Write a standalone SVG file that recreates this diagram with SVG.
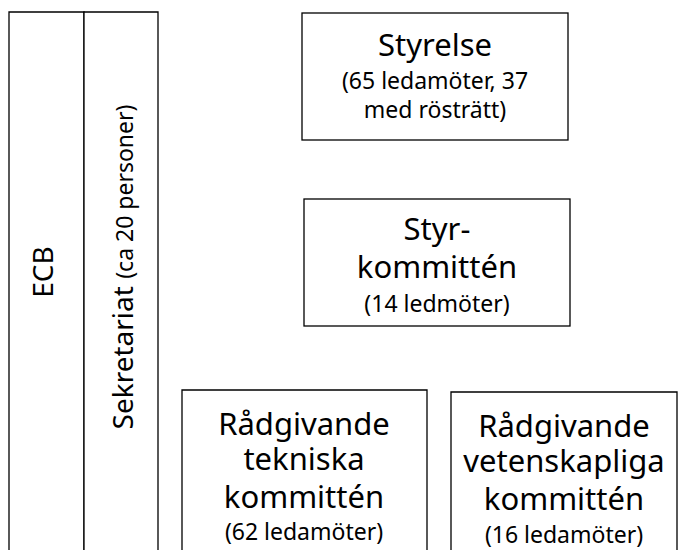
<svg xmlns="http://www.w3.org/2000/svg" width="678" height="550" viewBox="0 0 678 550">
<style>
.box{fill:#fff;stroke:#000;stroke-width:1.3}
text{font-family:"Noto Sans","Open Sans","DejaVu Sans",sans-serif;fill:#000;text-anchor:middle}
.big{font-size:31px}
.small{font-size:23px}
.vbig{font-size:28px}
.vsmall{font-size:23px}
</style>
<rect width="678" height="550" fill="#fff"/>
<g id="ecb">
<path class="box" d="M9,560 V12 H84 V560"/>
<text class="vbig" transform="translate(53,272) rotate(-90)">ECB</text>
</g>
<g id="sekretariat">
<path class="box" d="M84,560 V12 H158 V560"/>
<text transform="translate(133,267) rotate(-90)"><tspan class="vbig">Sekretariat </tspan><tspan class="vsmall">(ca 20 personer)</tspan></text>
</g>
<g id="styrelse">
<rect class="box" x="302" y="13" width="266" height="127"/>
<text class="big" x="435" y="56">Styrelse</text>
<text class="small" x="435" y="89">(65 ledamöter, 37</text>
<text class="small" x="435" y="118">med rösträtt)</text>
</g>
<g id="styrkommitten">
<rect class="box" x="304" y="199" width="266" height="127"/>
<text class="big" x="437" y="240">Styr-</text>
<text class="big" x="437" y="278">kommittén</text>
<text class="small" x="437" y="312">(14 ledmöter)</text>
</g>
<g id="tekniska">
<path class="box" d="M182,560 V390 H427 V560"/>
<text class="big" x="304" y="435">Rådgivande</text>
<text class="big" x="304" y="470">tekniska</text>
<text class="big" x="304" y="508">kommittén</text>
<text class="small" x="304" y="540">(62 ledamöter)</text>
</g>
<g id="vetenskapliga">
<path class="box" d="M451,560 V392 H677 V560"/>
<text class="big" x="564" y="437">Rådgivande</text>
<text class="big" x="564" y="472">vetenskapliga</text>
<text class="big" x="564" y="510">kommittén</text>
<text class="small" x="564" y="543">(16 ledamöter)</text>
</g>
<g id="connectors"></g>
</svg>
